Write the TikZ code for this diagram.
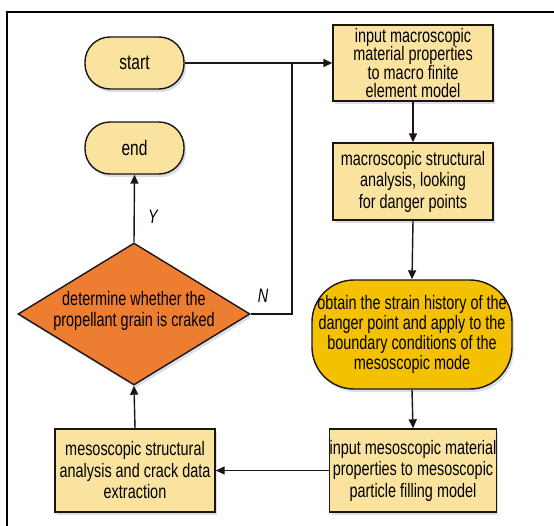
\documentclass[tikz,border=0pt]{standalone}
\usepackage{fontspec}
\setmainfont{Liberation Sans}[FakeStretch=0.74]
\usetikzlibrary{shapes.geometric,arrows.meta,shadows}
\definecolor{boxfill}{RGB}{250,227,158}
\definecolor{goldfill}{RGB}{243,193,0}
\definecolor{orangefill}{RGB}{237,125,49}
\definecolor{linecol}{RGB}{30,20,20}
\definecolor{shadowcol}{RGB}{200,210,225}
\begin{document}
\begin{tikzpicture}[x=1pt,y=-1pt,
  txt/.style={font=\fontsize{19.5pt}{21.5pt}\selectfont, text=black, align=center, inner sep=0pt},
  procbox/.style={txt, draw=linecol, line width=1.4pt, fill=boxfill, minimum width=160pt,
    drop shadow={shadow xshift=2pt, shadow yshift=-3pt, fill=shadowcol, opacity=0.7}},
  termbox/.style={procbox, minimum width=99pt, minimum height=52pt, rounded corners=25pt,
    font=\fontsize{21pt}{22pt}\selectfont},
  conn/.style={draw=linecol, line width=1.4pt},
  arr/.style={conn, -{Triangle[length=9pt,width=8pt]}},
  lbl/.style={font=\fontsize{19.5pt}{21pt}\selectfont\itshape, inner sep=0pt}
]
\useasboundingbox (0,0) rectangle (554,525);
\fill[white] (0,0) rectangle (554,525);
\draw[line width=1.2pt, black] (7,540) -- (7,12) -- (570,12);

\node[termbox] (start) at (134.5,63) {start};
\node[termbox] (end) at (134.5,148) {end};

\node[procbox, minimum height=76pt, font=\fontsize{19.5pt}{18.5pt}\selectfont] (b1) at (413,63)
  {input macroscopic\\material properties\\to macro finite\\element model};
\node[procbox, minimum height=77pt] (b2) at (413,181.5)
  {macroscopic structural\\analysis, looking\\for danger points};
\node[procbox, fill=goldfill, minimum width=200pt, minimum height=109pt, rounded corners=42pt,
  font=\fontsize{19.5pt}{20pt}\selectfont] (b3) at (412,334.5)
  {obtain the strain history of the\\danger point and apply to the\\boundary conditions of the\\mesoscopic mode};
\node[procbox, minimum height=83pt] (b4) at (413,470.5)
  {input mesoscopic material\\properties to mesoscopic\\particle filling model};
\node[procbox, minimum height=83pt] (b5) at (135,470.5)
  {mesoscopic structural\\analysis and crack data\\extraction};

\node[diamond, draw=linecol, line width=1.4pt, fill=orangefill, inner sep=0pt,
  minimum width=232pt, minimum height=142pt,
  drop shadow={shadow xshift=2pt, shadow yshift=-3pt, fill=shadowcol, opacity=0.7}] (dec) at (134,314) {};
\node[txt] (dectext) at (134,311) {determine whether the\\propellant grain is craked};

\coordinate (nj) at (292,63);
\draw[arr] (start.east) -- (b1.west);
\draw[arr] (b1.south) -- (b2.north);
\draw[arr] (b2.south) -- (b3.north);
\draw[arr] (b3.south) -- (b4.north);
\draw[arr] (b4.west) -- (b5.east);
\draw[arr] (b5.north) -- (dec.south);
\draw[arr] (dec.north) -- (end.south);
\draw[conn] (dec.east) -| (nj);

\node[lbl] (ylbl) at (153,217) {Y};
\node[lbl] (nlbl) at (263,296) {N};
\end{tikzpicture}
\end{document}
